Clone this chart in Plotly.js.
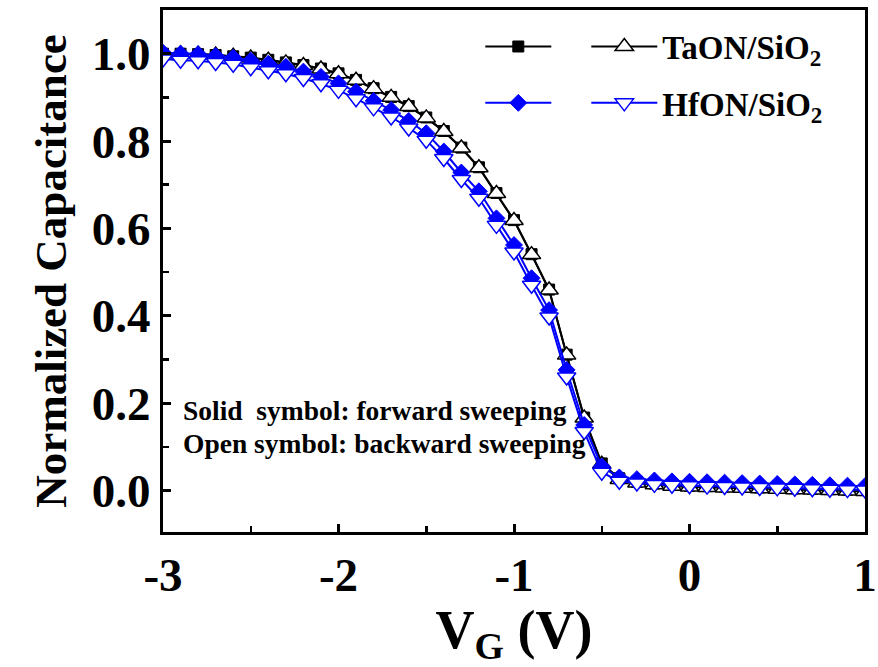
<!DOCTYPE html>
<html>
<head>
<meta charset="utf-8">
<script src="https://cdn.plot.ly/plotly-3.0.1.min.js"></script>
<style>html,body{margin:0;padding:0;background:#fff}#chart{width:878px;height:667px}</style>
</head>
<body>
<div id="chart"></div>
<script>
// Gate voltage (V)
var vg = [-3.0,-2.9,-2.8,-2.7,-2.6,-2.5,-2.4,-2.3,-2.2,-2.1,-2.0,-1.9,-1.8,-1.7,-1.6,-1.5,-1.4,-1.3,-1.2,-1.1,-1.0,-0.9,-0.8,-0.7,-0.6,-0.5,-0.4,-0.3,-0.2,-0.1,0.0,0.1,0.2,0.3,0.4,0.5,0.6,0.7,0.8,0.9,1.0];

// TaON/SiO2 forward sweep (solid squares)
var taonForward = [1.000,1.000,0.999,0.997,0.994,0.991,0.986,0.980,0.974,0.966,0.955,0.940,0.921,0.901,0.880,0.854,0.823,0.785,0.740,0.681,0.619,0.541,0.460,0.311,0.167,0.062,0.028,0.020,0.016,0.013,0.011,0.010,0.009,0.008,0.007,0.006,0.005,0.004,0.003,0.002,0.001];
// TaON/SiO2 backward sweep (open up-triangles)
var taonBackward = [1.000,1.000,0.999,0.997,0.994,0.990,0.985,0.979,0.973,0.965,0.954,0.939,0.920,0.900,0.879,0.853,0.822,0.784,0.739,0.680,0.618,0.540,0.459,0.310,0.166,0.060,0.025,0.017,0.013,0.010,0.008,0.007,0.006,0.005,0.004,0.003,0.002,0.001,0.000,-0.001,-0.002];
// HfON/SiO2 forward sweep (solid diamonds)
var hfonForward = [1.002,1.000,0.999,0.995,0.991,0.984,0.977,0.970,0.959,0.947,0.932,0.913,0.892,0.871,0.846,0.818,0.776,0.728,0.685,0.623,0.562,0.486,0.413,0.276,0.150,0.055,0.030,0.026,0.023,0.021,0.020,0.019,0.018,0.017,0.016,0.015,0.014,0.013,0.012,0.011,0.010];
// HfON/SiO2 backward sweep (open down-triangles)
var hfonBackward = [0.988,0.985,0.984,0.980,0.976,0.968,0.961,0.954,0.943,0.931,0.916,0.897,0.876,0.855,0.830,0.802,0.760,0.712,0.669,0.607,0.546,0.470,0.397,0.260,0.135,0.042,0.021,0.017,0.014,0.012,0.011,0.010,0.009,0.008,0.007,0.006,0.005,0.004,0.003,0.002,0.001];

var xTickVals = [-3,-2,-1,0,1];
var xTickText = ["-3","-2","-1","0","1"];
var seriesNames = ["\u00a0", "TaON/SiO<sub>2</sub>", "\u00a0", "HfON/SiO<sub>2</sub>"];
var noteLines = ["Solid  symbol: forward sweeping", "Open symbol: backward sweeping"];

var SERIF = "Liberation Serif, Times New Roman, serif";
var BLACK = "#000000", BLUE = "#0000ff";

var traces = [
  {x: vg, y: taonForward, name: seriesNames[0], legend: "legend", legendwidth: 25, mode: "lines+markers",
   line: {color: BLACK, width: 2},
   marker: {symbol: "square", size: 11, color: BLACK, line: {color: BLACK, width: 1}}},
  {x: vg, y: taonBackward, name: seriesNames[1], legend: "legend", mode: "lines+markers",
   line: {color: BLACK, width: 2},
   marker: {symbol: "triangle-up", size: 16, color: "#ffffff", line: {color: BLACK, width: 1.5}}},
  {x: vg, y: hfonForward, name: seriesNames[2], legend: "legend2", legendwidth: 25, mode: "lines+markers",
   line: {color: BLUE, width: 2},
   marker: {symbol: "diamond", size: 13, color: BLUE, line: {color: BLUE, width: 1}}},
  {x: vg, y: hfonBackward, name: seriesNames[3], legend: "legend2", mode: "lines+markers",
   line: {color: BLUE, width: 2},
   marker: {symbol: "triangle-down", size: 16, color: "#ffffff", line: {color: BLUE, width: 1.5}}}
];

var legendCommon = {
  orientation: "h", xanchor: "left", yanchor: "middle",
  bgcolor: "rgba(0,0,0,0)", borderwidth: 0, itemwidth: 66,
  font: {family: SERIF, size: 33, color: BLACK, weight: "bold"}
};

var layout = {
  width: 878, height: 667,
  paper_bgcolor: "#ffffff", plot_bgcolor: "#ffffff",
  margin: {l: 163, r: 13, t: 10, b: 135},
  font: {family: SERIF, color: BLACK},
  showlegend: true,
  legend: Object.assign({x: 0.452, y: 0.93}, legendCommon),
  legend2: Object.assign({x: 0.452, y: 0.822}, legendCommon),
  xaxis: {
    range: [-3, 1], tickvals: xTickVals, ticktext: xTickText,
    showgrid: false, zeroline: false,
    showline: true, mirror: true, linecolor: BLACK, linewidth: 3,
    ticks: "inside", ticklen: 8, tickwidth: 3, tickcolor: BLACK,
    minor: {dtick: 0.5, ticks: "inside", ticklen: 6, tickwidth: 2.5, tickcolor: BLACK, showgrid: false},
    tickfont: {family: SERIF, size: 47, color: BLACK, weight: "bold"},
    title: {text: "V<sub>G</sub> (V)", font: {family: SERIF, size: 54, color: BLACK, weight: "bold"}, standoff: 4},
    automargin: false
  },
  yaxis: {
    range: [-0.095, 1.1], tickvals: [0, 0.2, 0.4, 0.6, 0.8, 1.0], tickformat: ".1f",
    showgrid: false, zeroline: false,
    showline: true, mirror: true, linecolor: BLACK, linewidth: 3,
    ticks: "inside", ticklen: 8, tickwidth: 3, tickcolor: BLACK,
    minor: {dtick: 0.1, ticks: "inside", ticklen: 6, tickwidth: 2.5, tickcolor: BLACK, showgrid: false},
    tickfont: {family: SERIF, size: 47, color: BLACK, weight: "bold"},
    title: {text: "Normalized Capacitance", font: {family: SERIF, size: 45, color: BLACK, weight: "bold"}, standoff: 12},
    automargin: false
  },
  annotations: [
    {xref: "x", yref: "y", x: -2.9, y: 0.183, xanchor: "left", yanchor: "middle", showarrow: false,
     text: noteLines[0], font: {family: SERIF, size: 27.5, color: BLACK, weight: "bold"}},
    {xref: "x", yref: "y", x: -2.9, y: 0.107, xanchor: "left", yanchor: "middle", showarrow: false,
     text: noteLines[1], font: {family: SERIF, size: 27.5, color: BLACK, weight: "bold"}}
  ]
};

Plotly.newPlot("chart", traces, layout, {staticPlot: true, displayModeBar: false});
</script>
</body>
</html>
